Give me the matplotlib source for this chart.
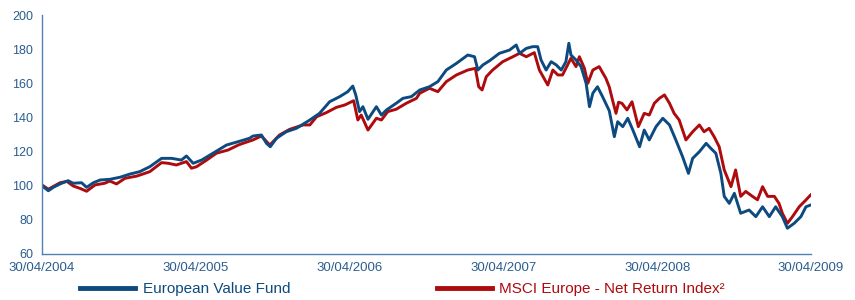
import pandas as pd
import matplotlib
matplotlib.use('Agg')
import matplotlib.pyplot as plt

# European Value Fund (rebased to 100 on 30/04/2004)
fund_dates = [
    '2004-04-30', '2004-05-15', '2004-05-27', '2004-06-12', '2004-07-01', '2004-07-13',
    '2004-08-02', '2004-08-14', '2004-08-30', '2004-09-15', '2004-10-08', '2004-11-01',
    '2004-11-25', '2004-12-18', '2005-01-11', '2005-02-08', '2005-03-04', '2005-03-27',
    '2005-04-08', '2005-04-24', '2005-05-14', '2005-06-10', '2005-07-12', '2005-08-09',
    '2005-09-05', '2005-09-13', '2005-10-03', '2005-10-15', '2005-10-24', '2005-11-08',
    '2005-12-01', '2005-12-25', '2006-01-26', '2006-02-18', '2006-03-14', '2006-04-07',
    '2006-04-26', '2006-05-08', '2006-05-15', '2006-05-24', '2006-06-01', '2006-06-13',
    '2006-07-03', '2006-07-15', '2006-07-27', '2006-08-19', '2006-09-04', '2006-09-24',
    '2006-10-14', '2006-11-06', '2006-11-26', '2006-12-16', '2007-01-09', '2007-02-05',
    '2007-02-21', '2007-03-01', '2007-03-13', '2007-03-29', '2007-04-21', '2007-05-15',
    '2007-05-31', '2007-06-08', '2007-06-24', '2007-07-09', '2007-07-21', '2007-07-29',
    '2007-08-10', '2007-08-22', '2007-09-03', '2007-09-15', '2007-09-26', '2007-10-03',
    '2007-10-08', '2007-10-20', '2007-11-01', '2007-11-13', '2007-11-21', '2007-11-29',
    '2007-12-10', '2007-12-22', '2008-01-07', '2008-01-19', '2008-01-27', '2008-02-08',
    '2008-02-20', '2008-03-03', '2008-03-19', '2008-03-30', '2008-04-11', '2008-04-27',
    '2008-05-13', '2008-05-29', '2008-06-13', '2008-06-29', '2008-07-13', '2008-07-23',
    '2008-08-08', '2008-08-24', '2008-09-04', '2008-09-16', '2008-09-28', '2008-10-06',
    '2008-10-18', '2008-10-30', '2008-11-14', '2008-12-04', '2008-12-20', '2009-01-05',
    '2009-01-21', '2009-02-05', '2009-02-21', '2009-03-05', '2009-03-21', '2009-04-06',
    '2009-04-18', '2009-04-29',
]
fund_values = [
    100.0, 97.1, 99.1, 101.1, 103.0, 101.5,
    101.8, 99.1, 101.8, 103.4, 103.8, 105.0,
    106.9, 108.3, 111.2, 116.1, 116.1, 115.1,
    117.5, 113.2, 115.1, 119.1, 123.9, 125.9,
    127.9, 129.2, 129.8, 124.9, 122.9, 127.9,
    131.7, 133.7, 138.6, 142.5, 149.3, 152.3,
    155.2, 158.5, 153.3, 143.5, 146.4, 139.0,
    146.4, 141.5, 144.5, 148.4, 151.3, 152.3,
    156.2, 158.1, 161.1, 167.9, 171.8, 176.7,
    175.7, 167.9, 170.9, 173.4, 177.7, 179.6,
    182.6, 177.7, 180.6, 181.6, 181.6, 173.8,
    167.9, 172.8, 170.9, 167.9, 172.8, 183.6,
    176.7, 173.8, 169.9, 160.1, 146.4, 154.3,
    158.1, 152.3, 144.0, 128.8, 137.6, 134.7,
    139.6, 132.7, 122.9, 132.7, 126.9, 134.7,
    139.6, 135.7, 126.9, 117.1, 107.3, 116.1,
    120.0, 124.9, 122.0, 119.1, 107.3, 93.8,
    89.7, 95.6, 83.9, 85.8, 81.9, 87.7,
    81.9, 87.7, 81.9, 75.1, 78.0, 81.9,
    87.7, 88.7,
]

# MSCI Europe - Net Return Index
index_dates = [
    '2004-04-30', '2004-05-15', '2004-06-12', '2004-06-28', '2004-07-13', '2004-07-29',
    '2004-08-14', '2004-09-03', '2004-09-26', '2004-10-08', '2004-10-24', '2004-11-13',
    '2004-12-11', '2005-01-11', '2005-02-08', '2005-02-24', '2005-03-15', '2005-04-08',
    '2005-04-20', '2005-05-02', '2005-05-26', '2005-06-18', '2005-07-16', '2005-08-09',
    '2005-08-20', '2005-09-13', '2005-10-03', '2005-10-23', '2005-11-15', '2005-12-09',
    '2006-01-10', '2006-01-26', '2006-02-11', '2006-03-06', '2006-03-30', '2006-04-19',
    '2006-05-10', '2006-05-20', '2006-05-28', '2006-06-13', '2006-07-03', '2006-07-15',
    '2006-07-30', '2006-08-19', '2006-09-12', '2006-10-06', '2006-10-14', '2006-11-06',
    '2006-11-26', '2006-12-16', '2007-01-09', '2007-02-05', '2007-02-23', '2007-03-03',
    '2007-03-11', '2007-03-21', '2007-04-05', '2007-04-29', '2007-05-23', '2007-06-08',
    '2007-06-24', '2007-07-13', '2007-07-25', '2007-08-14', '2007-08-26', '2007-09-07',
    '2007-09-18', '2007-10-08', '2007-10-20', '2007-10-28', '2007-11-09', '2007-11-17',
    '2007-11-29', '2007-12-14', '2007-12-30', '2008-01-07', '2008-01-15', '2008-01-23',
    '2008-01-29', '2008-02-06', '2008-02-18', '2008-03-01', '2008-03-16', '2008-03-30',
    '2008-04-11', '2008-04-23', '2008-05-05', '2008-05-17', '2008-05-29', '2008-06-09',
    '2008-06-21', '2008-07-07', '2008-07-23', '2008-08-08', '2008-08-19', '2008-08-31',
    '2008-09-12', '2008-09-24', '2008-10-06', '2008-10-22', '2008-11-02', '2008-11-14',
    '2008-11-26', '2008-12-12', '2008-12-24', '2009-01-05', '2009-01-17', '2009-02-02',
    '2009-02-13', '2009-02-21', '2009-03-05', '2009-03-17', '2009-04-02', '2009-04-18',
    '2009-04-29',
]
index_values = [
    100.5, 98.0, 101.8, 102.6, 99.9, 98.5,
    96.8, 100.5, 101.5, 102.8, 101.1, 104.4,
    105.7, 108.3, 113.6, 113.2, 112.2, 114.2,
    110.3, 111.2, 115.1, 119.1, 121.0, 123.9,
    124.9, 126.9, 129.2, 123.9, 129.8, 133.1,
    135.7, 135.7, 140.5, 142.9, 146.0, 147.4,
    149.9, 138.6, 141.5, 132.7, 139.6, 138.6,
    143.5, 144.9, 148.4, 151.3, 154.3, 157.2,
    155.2, 161.1, 165.0, 167.9, 168.9, 158.1,
    156.2, 164.0, 167.9, 172.8, 175.7, 177.7,
    175.7, 178.1, 167.9, 159.1, 167.9, 165.0,
    165.0, 174.8, 169.9, 175.7, 168.9, 160.1,
    167.9, 169.9, 163.0, 158.0, 150.0, 142.5,
    149.0, 148.4, 144.5, 149.3, 134.7, 142.5,
    141.5, 148.4, 151.3, 153.3, 148.4, 142.5,
    138.6, 126.9, 131.7, 135.7, 131.7, 133.7,
    128.8, 122.9, 109.3, 99.5, 109.3, 93.8,
    96.7, 93.8, 91.8, 99.5, 93.8, 93.8,
    89.7, 83.9, 78.0, 81.9, 87.7, 91.7,
    94.6,
]

tick_dates = ['2004-04-30', '2005-04-30', '2006-04-30', '2007-04-30', '2008-04-30', '2009-04-30']

fund_color = '#0d4a80'
index_color = '#ad0b0e'
axis_color = '#4f80b6'
label_color = '#2c5d8f'

plt.rcParams['font.family'] = ['Liberation Sans', 'DejaVu Sans']

fig = plt.figure(figsize=(8.55, 3.0), dpi=100)
ax = fig.add_axes([42 / 855, 46 / 300, 769 / 855, 238.7 / 300])

ax.plot(pd.to_datetime(index_dates), index_values, color=index_color, lw=2.1,
        label='MSCI Europe - Net Return Index\u00b2')
ax.plot(pd.to_datetime(fund_dates), fund_values, color=fund_color, lw=2.1,
        label='European Value Fund')

ax.set_xlim(pd.Timestamp('2004-04-30'), pd.Timestamp('2009-04-30'))
ax.set_ylim(60, 200)
ax.set_yticks(range(60, 201, 20))
ticks = pd.to_datetime(tick_dates)
ax.set_xticks(ticks)
ax.set_xticklabels([t.strftime('%d/%m/%Y') for t in ticks])

for side in ['top', 'right']:
    ax.spines[side].set_visible(False)
for side in ['left', 'bottom']:
    ax.spines[side].set_color(axis_color)
    ax.spines[side].set_linewidth(1.0)
ax.tick_params(length=0, labelcolor=label_color)
ax.tick_params(axis='x', pad=6.0, labelsize=9.5)
ax.tick_params(axis='y', pad=6.5, labelsize=9)

# legend below the plot, fund first
handles, labels = ax.get_legend_handles_labels()
leg = fig.legend(handles[::-1], labels[::-1], loc='center left',
                 bbox_to_anchor=(80 / 855, 11 / 300), ncol=2, frameon=False,
                 fontsize=11, handlelength=3.6, handletextpad=0.5,
                 columnspacing=9.6, borderpad=0, borderaxespad=0)
for line in leg.get_lines():
    line.set_linewidth(3.5)
for text, col in zip(leg.get_texts(), [fund_color, index_color]):
    text.set_color(col)

fig.savefig('out.png', dpi=100)
